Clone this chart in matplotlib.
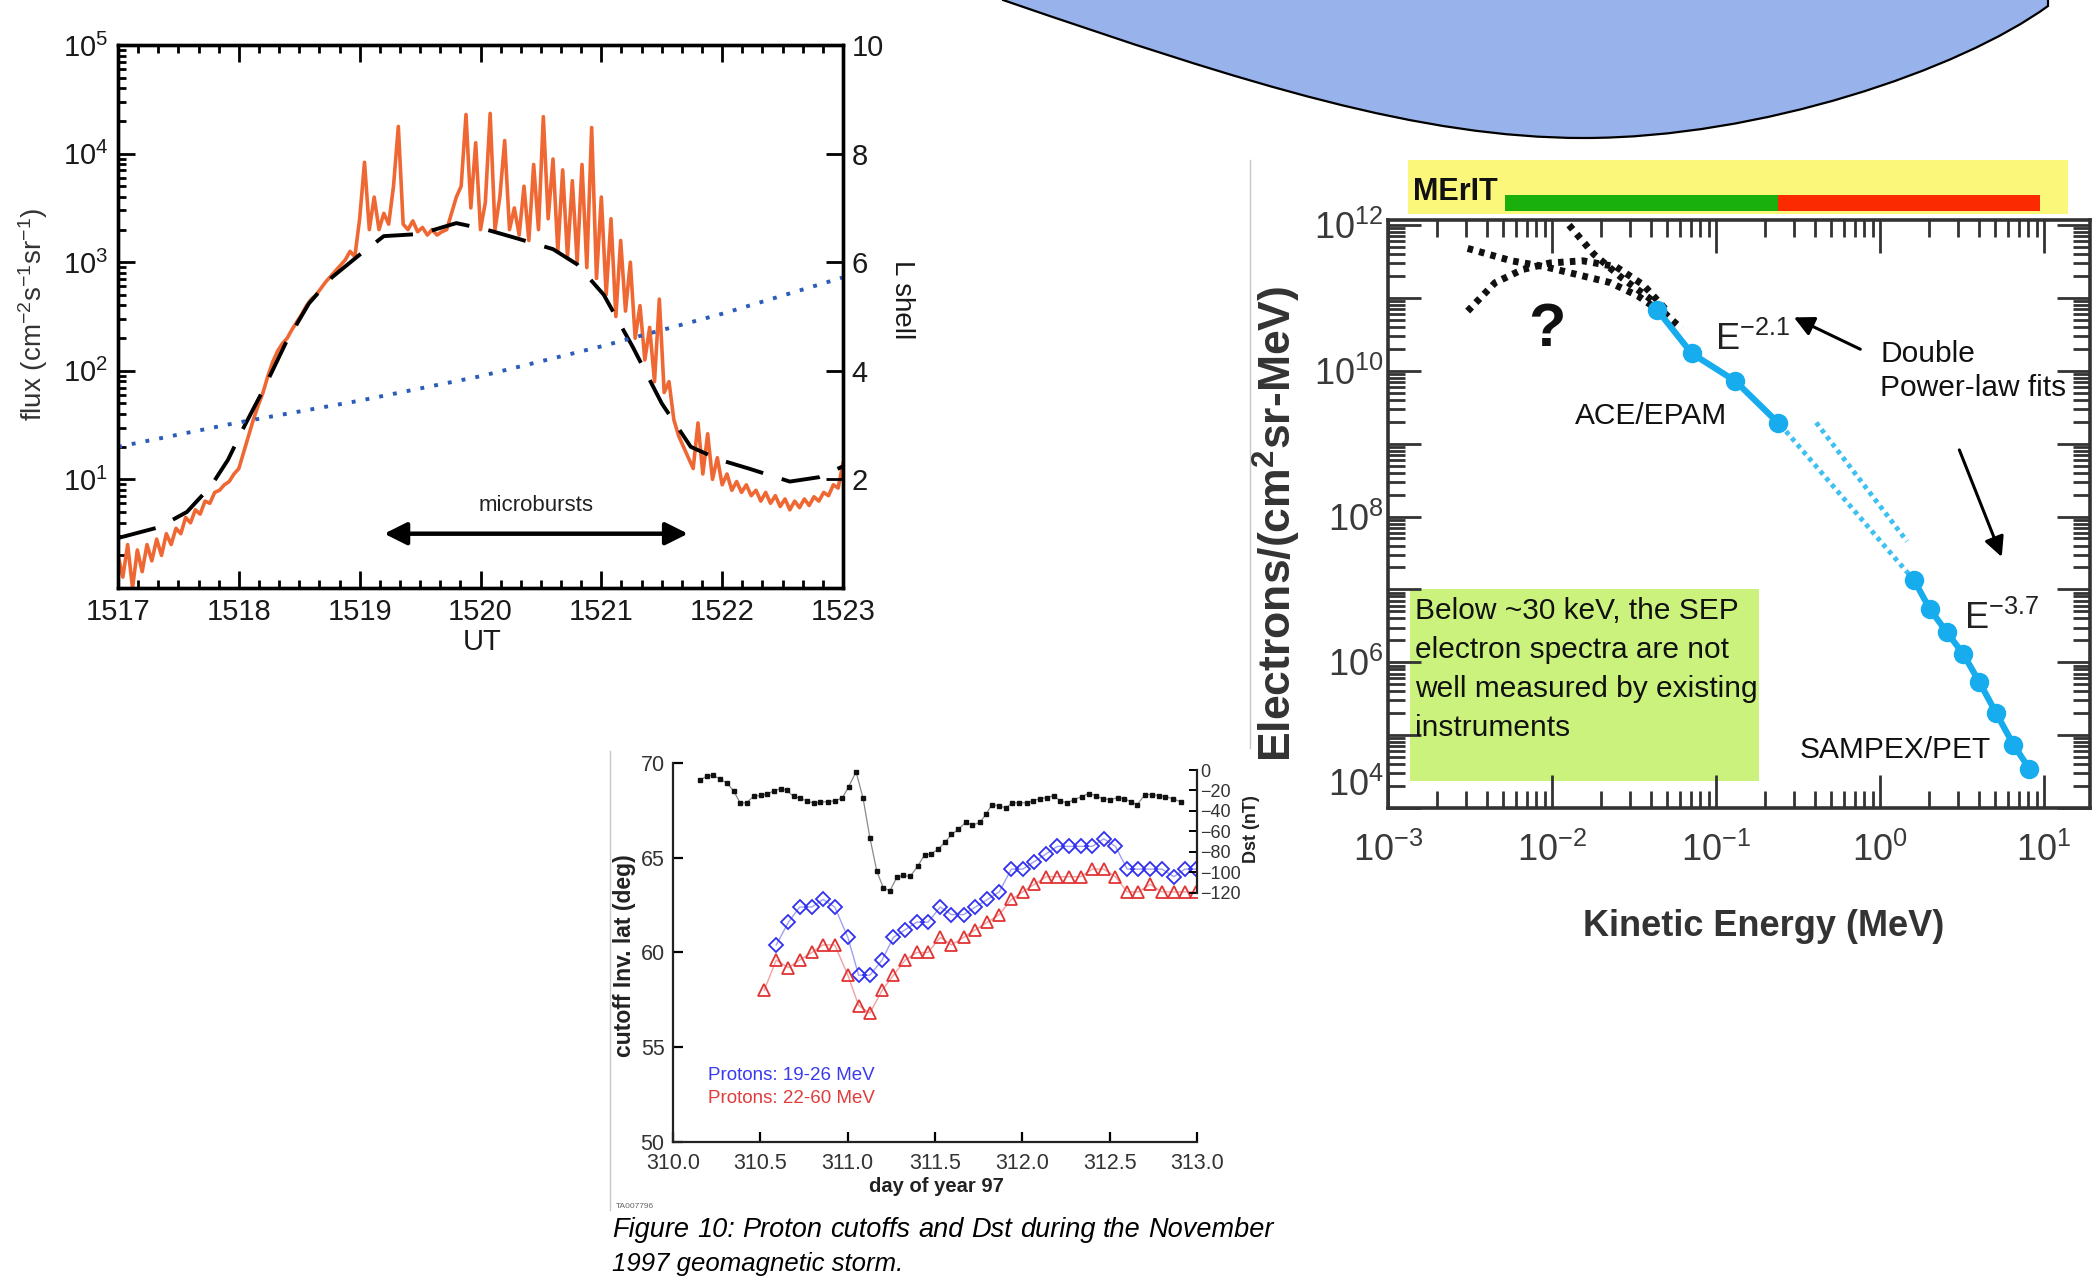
import numpy as np
import matplotlib
matplotlib.use("Agg")
import matplotlib.pyplot as plt
import matplotlib.transforms as mtransforms
from matplotlib.patches import Rectangle, PathPatch
from matplotlib.path import Path
from matplotlib.ticker import LogLocator, MultipleLocator, FuncFormatter, NullFormatter

plt.rcParams['font.family'] = ['Liberation Sans', 'DejaVu Sans']
NARROW = ['Liberation Sans Narrow', 'Liberation Sans', 'DejaVu Sans']

W, H = 2096, 1286

# ---------------- panel A: microburst flux vs UT ----------------
ut_start, ut_step = 1517.0, 0.04
flux_log10 = [
    0.30, 0.10, 0.40, 0.00, 0.35, 0.15, 0.40, 0.25, 0.45, 0.30,
    0.50, 0.40, 0.55, 0.50, 0.65, 0.60, 0.72, 0.68, 0.80, 0.78,
    0.88, 0.90, 0.95, 0.98, 1.05, 1.10, 1.25, 1.40, 1.55, 1.68,
    1.80, 1.95, 2.08, 2.18, 2.25, 2.30, 2.38, 2.45, 2.52, 2.60,
    2.66, 2.70, 2.76, 2.82, 2.87, 2.92, 2.97, 3.02, 3.10, 3.05,
    3.40, 3.92, 3.30, 3.60, 3.30, 3.45, 3.35, 3.70, 4.25, 3.35,
    3.30, 3.38, 3.28, 3.32, 3.25, 3.30, 3.25, 3.28, 3.30, 3.45,
    3.60, 3.70, 4.36, 3.50, 4.10, 3.30, 3.55, 4.37, 3.30, 3.60,
    4.12, 3.30, 3.50, 3.25, 3.70, 3.20, 3.90, 3.30, 4.34, 3.40,
    3.95, 3.10, 3.85, 3.05, 3.75, 3.00, 3.90, 2.95, 4.24, 2.85,
    3.60, 2.70, 3.40, 2.50, 3.20, 2.55, 3.00, 2.30, 2.60, 2.10,
    2.40, 1.90, 2.66, 1.80, 1.90, 1.55, 1.40, 1.30, 1.20, 1.10,
    1.52, 1.05, 1.42, 1.00, 1.20, 0.95, 1.05, 0.90, 0.98, 0.88,
    0.95, 0.85, 0.90, 0.80, 0.88, 0.78, 0.85, 0.75, 0.82, 0.72,
    0.80, 0.74, 0.82, 0.76, 0.84, 0.80, 0.88, 0.85, 0.95, 0.92,
    1.15]
ut = ut_start + ut_step * np.arange(len(flux_log10))

fit_ut = [1517.0, 1517.34, 1517.57, 1517.77, 1517.91, 1518.05, 1518.2, 1518.39, 1518.58,
          1518.77, 1518.99, 1519.2, 1519.5, 1519.8, 1520.05, 1520.3, 1520.6, 1520.8,
          1521.02, 1521.26, 1521.5, 1521.74, 1521.98, 1522.22, 1522.56, 1522.8, 1523.0]
fit_log10 = [0.46, 0.56, 0.70, 0.94, 1.18, 1.50, 1.82, 2.26, 2.62, 2.86, 3.06, 3.24, 3.26,
             3.36, 3.30, 3.22, 3.12, 2.98, 2.70, 2.22, 1.70, 1.30, 1.18, 1.10, 0.98, 1.02, 1.12]

lshell_ut = [1517.0, 1518.0, 1519.0, 1520.0, 1521.0, 1522.0, 1523.0]
lshell = [2.6, 3.05, 3.45, 3.9, 4.45, 5.05, 5.72]

microburst_span = (1519.18, 1521.74)

# ---------------- panel B: electron spectrum ----------------
ace_e = [0.0437, 0.071, 0.131, 0.238]
ace_f = [10**10.84, 10**10.24, 10**9.86, 10**9.29]
pet_e = [1.61, 2.01, 2.56, 3.2, 4.03, 5.11, 6.5, 8.13]
pet_f = [10**7.13, 10**6.73, 10**6.41, 10**6.12, 10**5.73, 10**5.30, 10**4.87, 10**4.54]
ext_a_e = [0.267, 1.51]
ext_a_f = [10**9.17, 10**7.2]
ext_b_e = [0.408, 1.46]
ext_b_f = [10**9.29, 10**7.66]
guess1_e = [0.0127, 0.018, 0.0265, 0.039, 0.053, 0.0618]
guess1_f = [10**12.0, 10**11.6, 10**11.28, 10**11.0, 10**10.71, 10**10.58]
guess2_e = [0.00306, 0.00566, 0.009, 0.0143, 0.0227, 0.0333, 0.0454]
guess2_f = [10**11.68, 10**11.51, 10**11.43, 10**11.32, 10**11.21, 10**11.03, 10**10.82]
guess3_e = [0.00306, 0.0045, 0.0066, 0.0097, 0.0154, 0.0245, 0.036, 0.049]
guess3_f = [10**10.82, 10**11.21, 10**11.39, 10**11.48, 10**11.51, 10**11.43, 10**11.18, 10**10.85]
merit_green = (0.0052, 0.237)
merit_red = (0.237, 9.5)
merit_band = (0.00132, 14.0)
note_box_e = (0.00136, 0.182)
note_box_f = (10**4.37, 10**7.0)

# ---------------- panel C: proton cutoffs and Dst ----------------
dst_day = [310.154, 310.194, 310.228, 310.268, 310.310, 310.348, 310.385, 310.422, 310.462, 310.502,
           310.541, 310.576, 310.616, 310.651, 310.690, 310.725, 310.765, 310.807, 310.844, 310.887,
           310.926, 310.969, 311.006, 311.048, 311.088, 311.127, 311.167, 311.204, 311.242, 311.281,
           311.316, 311.358, 311.401, 311.440, 311.478, 311.520, 311.560, 311.594, 311.634, 311.676,
           311.714, 311.758, 311.793, 311.825, 311.868, 311.907, 311.942, 311.982, 312.024, 312.061,
           312.101, 312.141, 312.180, 312.215, 312.255, 312.297, 312.339, 312.379, 312.421, 312.459,
           312.503, 312.546, 312.583, 312.623, 312.657, 312.702, 312.744, 312.781, 312.819, 312.861,
           312.906]
dst_nt = [-9.6, -6.2, -5.1, -8.6, -13, -20.5, -32.5, -31.8, -25.7, -24.7,
          -23.3, -20.5, -18.2, -19.9, -25.7, -27.4, -30.1, -32.5, -31.5, -30.8,
          -30.1, -27.4, -16.4, -1.7, -27.4, -66, -99, -115, -118, -105,
          -103, -104, -94, -83, -82, -77, -70, -63, -58, -51,
          -54, -51, -43, -34, -35, -37, -32, -32, -32, -30,
          -28, -27, -25, -30, -32, -29, -26, -23, -25, -28,
          -29, -27, -28, -31, -34, -24, -24, -25, -26, -28,
          -31]
p19_day = [310.591, 310.661, 310.725, 310.795, 310.859, 310.926, 311.001, 311.063, 311.127, 311.197,
           311.262, 311.329, 311.396, 311.460, 311.530, 311.594, 311.664, 311.731, 311.800, 311.868,
           311.937, 312.002, 312.069, 312.136, 312.200, 312.267, 312.334, 312.401, 312.466, 312.533,
           312.600, 312.665, 312.732, 312.799, 312.868, 312.930, 312.993]
p19_lat = [60.4, 61.6, 62.4, 62.4, 62.8, 62.4, 60.8, 58.8, 58.8, 59.6,
           60.8, 61.2, 61.6, 61.6, 62.4, 62.0, 62.0, 62.4, 62.8, 63.2,
           64.4, 64.4, 64.8, 65.2, 65.6, 65.6, 65.6, 65.6, 66.0, 65.6,
           64.4, 64.4, 64.4, 64.4, 64.0, 64.4, 64.4]
p22_day = [310.522] + p19_day
p22_lat = [58.0, 59.6, 59.2, 59.6, 60.0, 60.4, 60.4, 58.8, 57.2, 56.8, 58.0,
           58.8, 59.6, 60.0, 60.0, 60.8, 60.4, 60.8, 61.2, 61.6, 62.0,
           62.8, 63.2, 63.6, 64.0, 64.0, 64.0, 64.0, 64.4, 64.4, 64.0,
           63.2, 63.2, 63.6, 63.2, 63.2, 63.2, 63.2]

caption_1 = 'Figure 10: Proton cutoffs and Dst during the November'
caption_2 = '1997 geomagnetic storm.'


def px_box(x0, y0, x1, y1):
    return [x0 / W, 1 - y1 / H, (x1 - x0) / W, (y1 - y0) / H]


def fig_text(x, y, s, **kw):
    return fig.text(x / W, 1 - y / H, s, **kw)


fig = plt.figure(figsize=(W / 100, H / 100), dpi=100)

# background layer: blue blob and thin frame lines
bg = fig.add_axes([0, 0, 1, 1], zorder=-5)
bg.set_xlim(0, W)
bg.set_ylim(H, 0)
bg.axis('off')
blob = Path([(1003, -6), (1003, 0), (1250, 85), (1420, 138), (1584, 138),
             (1760, 138), (1960, 70), (2048, 6), (2048, -6), (1003, -6)],
            [Path.MOVETO, Path.LINETO, Path.CURVE4, Path.CURVE4, Path.CURVE4,
             Path.CURVE4, Path.CURVE4, Path.CURVE4, Path.LINETO, Path.CLOSEPOLY])
bg.add_patch(PathPatch(blob, facecolor='#98b3eb', edgecolor='black', lw=1.6))
bg.plot([1250, 1250], [160, 748], color='#c8c8c8', lw=1)
bg.plot([610, 610], [751, 1210], color='#c8c8c8', lw=1)

# ---------------- panel A ----------------
ax1 = fig.add_axes(px_box(118, 45, 843, 588))
ax1.set_facecolor('none')
ax1.plot(ut, 10 ** np.array(flux_log10), color='#ef6833', lw=2.6, zorder=2)
ax1.plot(fit_ut, 10 ** np.array(fit_log10), color='black', lw=2.8, dashes=(10, 5), zorder=3)
ax1.set_yscale('log')
ax1.set_xlim(1517, 1523)
ax1.set_ylim(1, 1e5)
ax1.set_yticks([1e1, 1e2, 1e3, 1e4, 1e5])
ax1.yaxis.set_minor_locator(LogLocator(base=10, subs=np.arange(2, 10), numticks=20))
ax1.yaxis.set_minor_formatter(NullFormatter())
ax1.set_xticks(range(1517, 1524))
ax1.xaxis.set_minor_locator(MultipleLocator(1 / 6))
ax1.tick_params(which='both', direction='in', top=True, right=False, width=2, colors='black')
ax1.tick_params(which='major', length=12, labelsize=21, pad=7, labelcolor='#1a1a1a')
ax1.tick_params(which='minor', length=6)
for sp in ax1.spines.values():
    sp.set_linewidth(2.4)
ax1.annotate('', xy=(microburst_span[0], 10 ** 0.5), xytext=(microburst_span[1], 10 ** 0.5),
             arrowprops=dict(arrowstyle='<|-|>', lw=3.2, color='black', mutation_scale=34))
ax1.text(sum(microburst_span) / 2, 10 ** 0.76, 'microbursts', ha='center', va='center',
         fontsize=16, color='#222222')

ax1r = ax1.twinx()
ax1r.plot(lshell_ut, lshell, color='#2a5cb8', lw=2.8, dashes=(1, 2.6))
ax1r.set_ylim(0, 10)
ax1r.set_yticks([2, 4, 6, 8, 10])
ax1r.tick_params(direction='in', length=12, width=2, labelsize=21, pad=6, labelcolor='#1a1a1a')
for sp in ax1r.spines.values():
    sp.set_linewidth(2.4)

fig_text(482, 642, 'UT', ha='center', va='center', fontsize=21, color='#1a1a1a')
fig_text(33, 314, r'flux (cm$\mathdefault{^{-2}}$s$\mathdefault{^{-1}}$sr$\mathdefault{^{-1}}$)',
         ha='center', va='center', rotation=90, fontsize=20, color='#333333')
fig_text(902, 300, 'L shell', ha='center', va='center', rotation=270, fontsize=20, color='#1a1a1a')

# ---------------- panel B ----------------
ax2 = fig.add_axes(px_box(1388, 220, 2090, 808))
ax2.set_facecolor('none')
ax2.set_xscale('log')
ax2.set_yscale('log')
ax2.set_xlim(1e-3, 10 ** 1.28)
ax2.set_ylim(1e4, 10 ** 12.07)

ax2.add_patch(Rectangle((note_box_e[0], note_box_f[0]), note_box_e[1] - note_box_e[0],
                        note_box_f[1] - note_box_f[0], facecolor='#cbf27c', edgecolor='none', zorder=1))
ax2.text(note_box_e[0] * 1.07, note_box_f[1] * 0.78,
         'Below ~30 keV, the SEP\nelectron spectra are not\nwell measured by existing\ninstruments',
         ha='left', va='top', fontsize=21.5, linespacing=1.5, family=NARROW, color='#111111', zorder=2)

for ge, gf in [(guess1_e, guess1_f), (guess2_e, guess2_f), (guess3_e, guess3_f)]:
    ax2.plot(ge, gf, color='#111111', lw=5, dashes=(0.8, 0.9), zorder=3)
for ee, ef in [(ext_a_e, ext_a_f), (ext_b_e, ext_b_f)]:
    ax2.plot(ee, ef, color='#3ec0f0', lw=3.5, dashes=(0.9, 0.9), zorder=3)
ax2.plot(ace_e, ace_f, '-o', color='#16acee', lw=4.5, ms=13, zorder=4)
ax2.plot(pet_e, pet_f, '-o', color='#16acee', lw=4.5, ms=13, zorder=4)

ax2.text(0.0093, 10 ** 10.55, '?', ha='center', va='center', fontsize=44, fontweight='bold',
         family=NARROW, color='#111111')
ax2.text(0.098, 10 ** 10.28, r'E$\mathdefault{^{-2.1}}$', ha='left', va='baseline', fontsize=26,
         family=NARROW, color='#222222')
ax2.text(3.27, 10 ** 6.45, r'E$\mathdefault{^{-3.7}}$', ha='left', va='baseline', fontsize=26,
         family=NARROW, color='#222222')
ax2.text(1.0, 10 ** 10.0, 'Double\nPower-law fits', ha='left', va='center', fontsize=21.5,
         linespacing=1.25, family=NARROW, color='#111111')
ax2.text(0.0137, 10 ** 9.38, 'ACE/EPAM', ha='left', va='center', fontsize=21.5, family=NARROW,
         color='#111111')
ax2.text(0.323, 10 ** 4.8, 'SAMPEX/PET', ha='left', va='center', fontsize=21.5, family=NARROW,
         color='#111111')
ax2.annotate('', xy=(0.288, 10 ** 10.75), xytext=(0.785, 10 ** 10.28),
             arrowprops=dict(arrowstyle='-|>', lw=2.2, color='black', mutation_scale=30))
ax2.annotate('', xy=(5.6, 10 ** 7.41), xytext=(3.0, 10 ** 8.95),
             arrowprops=dict(arrowstyle='-|>', lw=2.2, color='black', mutation_scale=30))

band = mtransforms.blended_transform_factory(ax2.transData, ax2.transAxes)
ax2.add_patch(Rectangle((merit_band[0], 1.010), merit_band[1] - merit_band[0], 0.092,
                        transform=band, facecolor='#fbf77a', edgecolor='none', clip_on=False))
ax2.add_patch(Rectangle((merit_green[0], 1.016), merit_green[1] - merit_green[0], 0.027,
                        transform=band, facecolor='#19b00d', edgecolor='none', clip_on=False))
ax2.add_patch(Rectangle((merit_red[0], 1.016), merit_red[1] - merit_red[0], 0.027,
                        transform=band, facecolor='#fb2a00', edgecolor='none', clip_on=False))
ax2.text(merit_band[0] * 1.08, 1.048, 'MErIT', transform=band, ha='left', va='center',
         fontsize=22, fontweight='bold', family=NARROW, color='#111111')

ax2.xaxis.set_major_locator(LogLocator(base=10, numticks=20))
ax2.xaxis.set_minor_locator(LogLocator(base=10, subs=np.arange(2, 10), numticks=20))
ax2.xaxis.set_minor_formatter(NullFormatter())
ax2.yaxis.set_major_locator(LogLocator(base=10, numticks=20))
ax2.yaxis.set_minor_locator(LogLocator(base=10, subs=np.arange(2, 10), numticks=20))
ax2.yaxis.set_minor_formatter(NullFormatter())


def even_decade(v, pos):
    k = round(np.log10(v))
    if k % 2 or k == 4:
        return ''
    return r'$\mathdefault{10^{%d}}$' % k


ax2.xaxis.set_major_formatter(FuncFormatter(lambda v, p: r'$\mathdefault{10^{%d}}$' % round(np.log10(v))))
ax2.yaxis.set_major_formatter(FuncFormatter(even_decade))
ax2.tick_params(which='both', direction='in', top=True, right=True, width=2, colors='#333333')
ax2.tick_params(which='major', length=24, labelsize=26, labelcolor='#3a3a3a')
ax2.tick_params(axis='x', which='major', pad=18)
ax2.tick_params(axis='y', which='major', pad=3)
ax2.tick_params(which='minor', length=12)
for lab in ax2.get_xticklabels() + ax2.get_yticklabels():
    lab.set_family(NARROW)
for sp in ax2.spines.values():
    sp.set_linewidth(2.6)
    sp.set_color('#333333')
# the 10^4 label sits a little above its tick in the original
ax2.text(-0.006, 10 ** 4.3, r'$\mathdefault{10^{4}}$', transform=mtransforms.blended_transform_factory(
    ax2.transAxes, ax2.transData), ha='right', va='center', fontsize=26, family=NARROW, color='#3a3a3a')

fig_text(1277, 524, r'Electrons/(cm$\mathdefault{^2}$sr-MeV)', ha='center', va='center',
         rotation=90, fontsize=32, fontweight='bold', family=NARROW, color='#333333')
fig_text(1764, 926, 'Kinetic Energy (MeV)', ha='center', va='center', fontsize=26,
         fontweight='bold', family=NARROW, color='#333333')

# ---------------- panel C ----------------
ax3 = fig.add_axes(px_box(673, 763, 1197, 1142))
ax3.set_facecolor('none')
ax3.plot(p19_day, p19_lat, color='#a0a0f2', lw=1, marker='D', ms=7, mfc='none',
         mec='#3030ee', mew=1.3, zorder=3)
ax3.plot(p22_day, p22_lat, color='#f2a0a0', lw=1, marker='^', ms=8.5, mfc='none',
         mec='#e03434', mew=1.3, zorder=3)
ax3.set_xlim(310, 313)
ax3.set_ylim(50, 70)
ax3.set_xticks([310.0, 310.5, 311.0, 311.5, 312.0, 312.5, 313.0])
ax3.set_xticklabels(['%.1f' % v for v in ax3.get_xticks()])
ax3.set_yticks([50, 55, 60, 65, 70])
ax3.spines['top'].set_visible(False)
ax3.spines['right'].set_visible(False)
for sp in ax3.spines.values():
    sp.set_linewidth(1.6)
    sp.set_color('#222222')
ax3.tick_params(direction='in', length=7, width=1.6, labelsize=15.5, labelcolor='#333333')
ax3.tick_params(axis='x', pad=8)
ax3.tick_params(axis='y', pad=6)
for lab in ax3.get_xticklabels() + ax3.get_yticklabels():
    lab.set_family(NARROW)
ax3.text(310.2, 53.5, 'Protons: 19-26 MeV', fontsize=13.5, color='#3a3aee', family=NARROW,
         va='center')
ax3.text(310.2, 52.3, 'Protons: 22-60 MeV', fontsize=13.5, color='#e03c3c', family=NARROW,
         va='center')

ax3d = ax3.twinx()
ax3d.plot(dst_day, dst_nt, color='#8a8a8a', lw=0.9, marker='s', ms=3, mfc='#111111',
          mec='#111111', zorder=2)
ax3d.set_ylim(-363.5, 6.85)
ax3d.set_xlim(310, 313)
for side in ['top', 'left', 'bottom']:
    ax3d.spines[side].set_visible(False)
ax3d.spines['right'].set_bounds(-120, 0)
ax3d.spines['right'].set_linewidth(1.6)
ax3d.spines['right'].set_color('#222222')
ax3d.set_yticks(range(-120, 1, 20))
ax3d.tick_params(direction='in', length=6, width=1.4, labelsize=13, pad=2, labelcolor='#333333')
for lab in ax3d.get_yticklabels():
    lab.set_family(NARROW)

fig_text(936, 1186, 'day of year 97', ha='center', va='center', fontsize=14.5, fontweight='bold',
         family=NARROW, color='#222222')
fig_text(624, 956, 'cutoff Inv. lat (deg)', ha='center', va='center', rotation=90, fontsize=16.5,
         fontweight='bold', family=NARROW, color='#222222')
fig_text(1251, 829, 'Dst (nT)', ha='center', va='center', rotation=90, fontsize=13,
         fontweight='bold', family=NARROW, color='#222222')
fig_text(616, 1206, 'TA007796', ha='left', va='center', fontsize=6, family=NARROW, color='#666666')

# caption: first line justified between the panel edges
fig.canvas.draw()
renderer = fig.canvas.get_renderer()
words = [fig_text(612, 1230, w, ha='left', va='center', fontsize=19.5, style='italic',
                  family=NARROW, color='black') for w in caption_1.split()]
widths = [t.get_window_extent(renderer).width for t in words]
gap = (1274 - 612 - sum(widths)) / (len(words) - 1)
x = 612
for t, w in zip(words, widths):
    t.set_x(x / W)
    x += w + gap
fig_text(612, 1264, caption_2, ha='left', va='center', fontsize=18.5, style='italic',
         family=NARROW, color='black')

fig.savefig('out.png', dpi=100)
